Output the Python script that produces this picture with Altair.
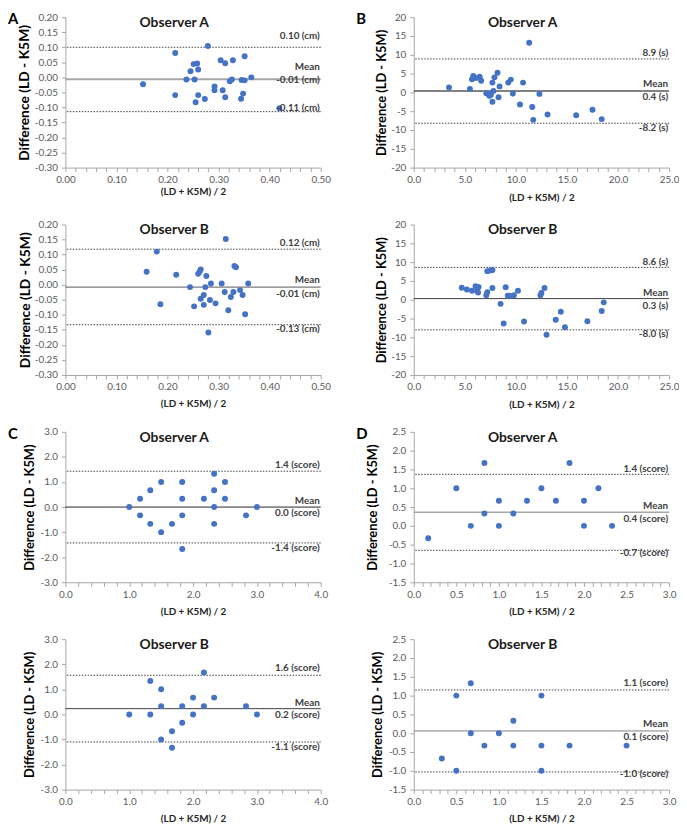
import altair as alt
import pandas as pd

# ---------------- data ----------------
# Panel A (length, cm)
a_obsA_x = [0.152, 0.215, 0.215, 0.237, 0.245, 0.251, 0.253, 0.255, 0.258, 0.260, 0.260, 0.273, 0.279, 0.292, 0.292,
            0.304, 0.308, 0.313, 0.313, 0.322, 0.326, 0.328, 0.344, 0.345, 0.348, 0.351, 0.351, 0.364, 0.419]
a_obsA_y = [-0.023, 0.081, -0.059, -0.007, 0.020, 0.044, -0.007, -0.083, 0.046, 0.026, -0.059, -0.072, 0.104, -0.030, -0.043,
            0.057, -0.043, 0.047, -0.066, -0.013, -0.007, 0.057, -0.071, -0.009, -0.054, 0.070, -0.010, 0.000, -0.103]
a_obsB_x = [0.159, 0.179, 0.186, 0.217, 0.244, 0.252, 0.260, 0.263, 0.265, 0.265, 0.271, 0.271, 0.274, 0.276, 0.280,
            0.283, 0.285, 0.294, 0.306, 0.312, 0.314, 0.319, 0.324, 0.329, 0.331, 0.334, 0.342, 0.347, 0.352, 0.358]
a_obsB_y = [0.043, 0.110, -0.065, 0.033, -0.008, -0.072, 0.036, 0.044, 0.051, -0.047, -0.034, -0.067, -0.008, 0.029, -0.159,
            -0.051, 0.004, -0.062, 0.004, -0.024, 0.152, -0.085, -0.041, -0.024, 0.062, 0.058, -0.018, -0.034, -0.098, 0.004]

# Panel B (time, s)
b_obsA_x = [3.45, 5.5, 5.7, 5.83, 6.1, 6.45, 6.6, 7.1, 7.3, 7.4, 7.55, 7.7, 7.7, 7.8, 7.9, 8.2, 8.3, 8.4, 9.25, 9.5,
            9.7, 10.4, 10.7, 11.3, 11.6, 11.7, 12.3, 13.1, 15.9, 17.5, 18.4]
b_obsA_y = [1.3, 0.9, 3.5, 4.4, 3.8, 4.2, 3.1, -0.2, -0.4, -0.9, -0.6, 2.6, -2.5, 0.4, 4.0, 5.2, -1.3, 1.6, 2.6, 3.4,
            -0.3, -3.2, 2.6, 13.2, -3.9, -7.3, -0.4, -5.9, -6.1, -4.6, -7.1]
b_obsB_x = [4.7, 5.2, 5.7, 6.05, 6.2, 6.3, 6.35, 7.1, 7.2, 7.2, 7.5, 7.7, 7.7, 8.5, 8.8, 9.0, 9.2, 9.4, 9.8, 10.2,
            10.8, 12.4, 12.5, 12.8, 13.0, 13.9, 14.4, 14.8, 17.0, 18.4, 18.6]
b_obsB_y = [3.2, 2.7, 2.4, 3.6, 2.4, 1.9, 3.4, 1.2, 2.0, 7.6, 7.8, 7.9, 3.1, -1.1, -6.3, 3.3, 1.1, 1.1, 1.2, 2.4,
            -5.8, 1.2, 1.8, 3.1, -9.3, -5.3, -3.2, -7.3, -5.7, -3.0, -0.7]

# Panel C (score)
c_obsA_x = [1.0, 1.17, 1.17, 1.33, 1.33, 1.5, 1.5, 1.67, 1.83, 1.83, 1.83, 1.83, 2.17, 2.33, 2.33, 2.33, 2.33, 2.5, 2.5, 2.83, 3.0]
c_obsA_y = [0.0, 0.33, -0.33, 0.67, -0.67, 1.0, -1.0, -0.67, 1.0, 0.33, -0.33, -1.67, 0.33, 1.33, 0.67, 0.0, -0.67, 1.0, 0.33, -0.33, 0.0]
c_obsB_x = [1.0, 1.33, 1.33, 1.5, 1.5, 1.5, 1.67, 1.67, 1.83, 1.83, 2.0, 2.0, 2.17, 2.17, 2.33, 2.83, 3.0]
c_obsB_y = [0.0, 1.33, 0.0, 1.0, 0.33, -1.0, -0.67, -1.33, 0.33, -0.33, 0.67, 0.0, 1.67, 0.33, 0.67, 0.33, 0.0]

# Panel D (score)
d_obsA_x = [0.17, 0.5, 0.67, 0.83, 0.83, 1.0, 1.0, 1.17, 1.33, 1.5, 1.67, 1.83, 2.0, 2.0, 2.17, 2.33]
d_obsA_y = [-0.33, 1.0, 0.0, 1.67, 0.33, 0.67, 0.0, 0.33, 0.67, 1.0, 0.67, 1.67, 0.67, 0.0, 1.0, 0.0]
d_obsB_x = [0.33, 0.5, 0.5, 0.67, 0.67, 0.83, 1.0, 1.17, 1.17, 1.5, 1.5, 1.5, 1.83, 2.5]
d_obsB_y = [-0.67, 1.0, -1.0, 1.33, 0.0, -0.33, 0.0, 0.33, -0.33, 1.0, -0.33, -1.0, -0.33, -0.33]

# limits of agreement: upper, mean, lower
limits = {
    "aA": [0.100, -0.006, -0.114], "aB": [0.118, -0.008, -0.133],
    "bA": [8.9, 0.4, -8.2], "bB": [8.6, 0.3, -8.0],
    "cA": [1.43, 0.0, -1.43], "cB": [1.56, 0.23, -1.10],
    "dA": [1.37, 0.36, -0.65], "dB": [1.15, 0.06, -1.03],
}
limit_labels = {
    "aA": ["0.10 (cm)", "-0.01 (cm)", "-0.11 (cm)"], "aB": ["0.12 (cm)", "-0.01 (cm)", "-0.13 (cm)"],
    "bA": ["8.9 (s)", "0.4 (s)", "-8.2 (s)"], "bB": ["8.6 (s)", "0.3 (s)", "-8.0 (s)"],
    "cA": ["1.4 (score)", "0.0 (score)", "-1.4 (score)"], "cB": ["1.6 (score)", "0.2 (score)", "-1.1 (score)"],
    "dA": ["1.4 (score)", "0.4 (score)", "-0.7 (score)"], "dB": ["1.1 (score)", "0.1 (score)", "-1.0 (score)"],
}

# ---------------- styling ----------------
W, H = 258, 152
FONT = "Lato"
BLUE = "#4472C4"
MINUS = "\u2212"


def ticks(lo, hi, step):
    n = int(round((hi - lo) / step))
    return [round(lo + i * step, 6) for i in range(n + 1)]


def label_expr(step, fmt):
    return (f"abs(datum.value/{step} - round(datum.value/{step})) < 0.001 ? "
            f"replace(format(datum.value, '{fmt}'), '{MINUS}', '-') : ''")


scales = {
    "a": dict(x=(0.0, 0.5, 0.02, 0.1, ".2f"), y=(-0.30, 0.20, 0.05, ".2f")),
    "b": dict(x=(0.0, 25.0, 1.0, 5.0, ".1f"), y=(-20, 20, 5, "d")),
    "c": dict(x=(0.0, 4.0, 0.2, 1.0, ".1f"), y=(-3.0, 3.0, 1.0, ".1f")),
    "d": dict(x=(0.0, 3.0, 0.1, 0.5, ".1f"), y=(-1.5, 2.5, 0.5, ".1f")),
}

style = {
    "aA": dict(mean_color="#a6a6a6", mean_w=2.0, ytx=-41, yfs=14, xty=24, dys=(-11, -12.5, 1, -3.5)),
    "aB": dict(mean_color="#595959", mean_w=1.0, ytx=-40, yfs=14, xty=29, dys=(-6, -7, 7, 4.5)),
    "bA": dict(mean_color="#595959", mean_w=1.5, ytx=-33, yfs=13, xty=30, dys=(-5.5, -6.5, 6.5, 4.5)),
    "bB": dict(mean_color="#404040", mean_w=1.0, ytx=-33, yfs=13, xty=30, dys=(-5, -5.5, 7.5, 4)),
    "cA": dict(mean_color="#262626", mean_w=1.0, ytx=-36, yfs=13, xty=30, dys=(-6.5, -6, 6.5, 5)),
    "cB": dict(mean_color="#404040", mean_w=1.0, ytx=-36, yfs=13, xty=29, dys=(-7, -6, 6.5, 5)),
    "dA": dict(mean_color="#a6a6a6", mean_w=1.5, ytx=-42, yfs=13, xty=30, dys=(-5.5, -6.5, 6.5, 2.5)),
    "dB": dict(mean_color="#808080", mean_w=1.0, ytx=-37, yfs=13, xty=29, dys=(-6.5, -6.5, 6, 2)),
}

series = {
    "aA": (a_obsA_x, a_obsA_y), "aB": (a_obsB_x, a_obsB_y),
    "bA": (b_obsA_x, b_obsA_y), "bB": (b_obsB_x, b_obsB_y),
    "cA": (c_obsA_x, c_obsA_y), "cB": (c_obsB_x, c_obsB_y),
    "dA": (d_obsA_x, d_obsA_y), "dB": (d_obsB_x, d_obsB_y),
}
letters = {"aA": "A", "bA": "B", "cA": "C", "dA": "D"}


def make_panel(key):
    grp, obs = key[0], key[1]
    sc = scales[grp]
    st = style[key]
    x0, x1, xminor, xmajor, xfmt = sc["x"]
    y0, y1, ystep, yfmt = sc["y"]
    xs = alt.Scale(domain=[x0, x1], nice=False, zero=False)
    ys = alt.Scale(domain=[y0, y1], nice=False, zero=False)

    xaxis = alt.Axis(values=ticks(x0, x1, xminor), labelExpr=label_expr(xmajor, xfmt),
                     title="(LD + K5M) / 2", titleFontSize=10, titleFontWeight="bold", titleColor="#262626",
                     titleX=W / 2, titleY=st["xty"], titleBaseline="middle", titleAlign="center",
                     labelFlush=False, labelOverlap=False, tickSize=4, labelPadding=3, grid=False)
    yaxis = alt.Axis(values=ticks(y0, y1, ystep), labelExpr=label_expr(ystep, yfmt),
                     title="Difference (LD - K5M)", titleFontSize=st["yfs"], titleFontWeight="bold",
                     titleColor="#000000", titleX=st["ytx"], titleY=H / 2, titleBaseline="middle",
                     titleAlign="center", titleAngle=270,
                     labelFlush=False, labelOverlap=False, tickSize=4, labelPadding=4, grid=False)

    xs_data, ys_data = series[key]
    df = pd.DataFrame({"x": xs_data, "y": ys_data})
    up, mean, low = limits[key]
    lab_up, lab_mean, lab_low = limit_labels[key]

    def Y():
        return alt.Y("y:Q", scale=ys, axis=yaxis)

    points = alt.Chart(df).mark_circle(size=36, color=BLUE, opacity=1).encode(
        x=alt.X("x:Q", scale=xs, axis=xaxis),
        y=Y(),
    )
    lim = alt.Chart(pd.DataFrame({"y": [up, low]})).mark_rule(
        color="#404040", strokeWidth=1, strokeDash=[1.5, 1.5]
    ).encode(y=Y())
    meanrule = alt.Chart(pd.DataFrame({"y": [mean]})).mark_rule(
        color=st["mean_color"], strokeWidth=st["mean_w"]
    ).encode(y=Y())

    layers = [lim, meanrule, points]
    texts = [(up, lab_up, st["dys"][0]), (mean, "Mean", st["dys"][1]),
             (mean, lab_mean, st["dys"][2]), (low, lab_low, st["dys"][3])]
    for val, txt, dy in texts:
        layers.append(
            alt.Chart(pd.DataFrame({"y": [val], "t": [txt]})).mark_text(
                align="right", baseline="middle", dy=dy, font=FONT, fontSize=10,
                fontWeight="bold", color="#404040"
            ).encode(y=Y(), x=alt.value(W - 1), text="t:N")
        )
    title = "Observer A" if obs == "A" else "Observer B"
    layers.append(
        alt.Chart(pd.DataFrame({"t": [title]})).mark_text(
            align="center", baseline="middle", font=FONT, fontSize=14, fontWeight="bold", color="#1a1a1a"
        ).encode(x=alt.value(110), y=alt.value(6), text="t:N")
    )
    if key in letters:
        layers.append(
            alt.Chart(pd.DataFrame({"t": [letters[key]]})).mark_text(
                align="left", baseline="top", font=FONT, fontSize=15, fontWeight="bold", color="#000000"
            ).encode(x=alt.value(-58), y=alt.value(-5), text="t:N")
        )
    return alt.layer(*layers).properties(width=W, height=H)


order = ["aA", "bA", "aB", "bB", "cA", "dA", "cB", "dB"]
chart = alt.concat(
    *[make_panel(k) for k in order],
    columns=2,
    spacing=alt.RowColnumber(row=57.5, column=94),
    bounds="flush",
).properties(
    padding={"left": 0, "top": 0, "right": 0, "bottom": 0}
).configure_view(stroke=None).configure_axis(
    domainColor="#a6a6a6", tickColor="#a6a6a6", labelColor="#595959",
    labelFont=FONT, labelFontSize=10, titleFont=FONT, grid=False,
)

chart.save("out.html", embed_options={"renderer": "svg", "actions": False})
